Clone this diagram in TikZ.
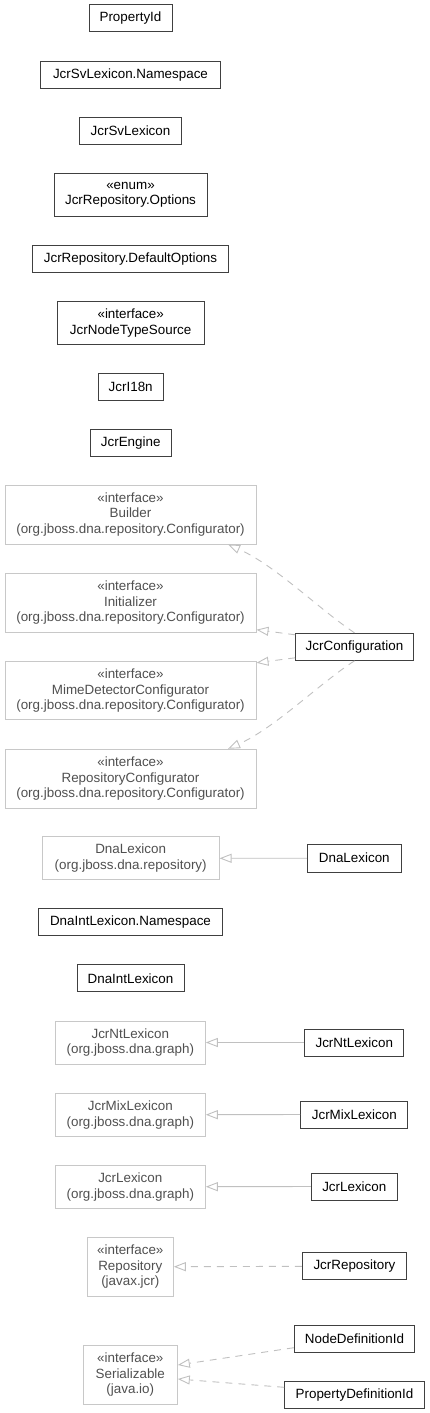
\documentclass[tikz,border=0pt]{standalone}
\usepackage{fontspec}
\setmainfont{Liberation Sans}
\usetikzlibrary{arrows.meta}
\definecolor{edgegrey}{HTML}{C0C0C0}
\definecolor{boxgrey}{HTML}{C8C8C8}
\definecolor{textgrey}{HTML}{505050}
\definecolor{boxdark}{HTML}{404040}
\begin{document}
\begin{tikzpicture}[x=1pt,y=-1pt,
  every node/.style={font=\fontsize{13.4}{15.7}\selectfont, align=center, inner sep=0pt, rectangle},
  cls/.style={draw=boxdark, line width=1pt, fill=white, text=black},
  ext/.style={draw=boxgrey, line width=1pt, fill=white, text=textgrey},
  realize/.style={draw=edgegrey, line width=0.9pt, dash pattern=on 7pt off 6pt, -{Triangle[open,length=12pt,width=9pt]}},
  inherit/.style={draw=edgegrey, line width=0.9pt, -{Triangle[open,length=12pt,width=9pt]}}]
\useasboundingbox (0,0) rectangle (429,1413);
% standalone classes
\node[cls, minimum width=83pt, minimum height=27pt] (propid) at (130.5,18.5) {PropertyId};
\node[cls, minimum width=179.6pt, minimum height=27.3pt] (svns) at (130.5,74.7) {JcrSvLexicon.Namespace};
\node[cls, minimum width=102.4pt, minimum height=27.3pt] (svlex) at (130.5,130.7) {JcrSvLexicon};
\node[cls, minimum width=153pt, minimum height=43.3pt] (opts) at (130.5,194.7) {«enum»\\JcrRepository.Options};
\node[cls, minimum width=195.6pt, minimum height=27.3pt] (defopts) at (130.5,258.7) {JcrRepository.DefaultOptions};
\node[cls, minimum width=147.3pt, minimum height=43.3pt] (nts) at (130.7,322.7) {«interface»\\JcrNodeTypeSource};
\node[cls, minimum width=64.7pt, minimum height=27.3pt] (i18n) at (130.7,386.7) {JcrI18n};
\node[cls, minimum width=80.7pt, minimum height=27.3pt] (engine) at (130.7,442.7) {JcrEngine};
% configurator interfaces
\node[ext, minimum width=251pt, minimum height=59pt] (builder) at (130.5,514.5) {«interface»\\Builder\\(org.jboss.dna.repository.Configurator)};
\node[ext, minimum width=251pt, minimum height=58.7pt] (init) at (130.5,602.7) {«interface»\\Initializer\\(org.jboss.dna.repository.Configurator)};
\node[ext, minimum width=251pt, minimum height=58.3pt] (mime) at (130.5,690.8) {«interface»\\MimeDetectorConfigurator\\(org.jboss.dna.repository.Configurator)};
\node[ext, minimum width=251pt, minimum height=59pt] (repconf) at (130.5,778.8) {«interface»\\RepositoryConfigurator\\(org.jboss.dna.repository.Configurator)};
\node[cls, minimum width=117.6pt, minimum height=27pt] (jcconf) at (354.5,646.8) {JcrConfiguration};
% lexicons
\node[ext, minimum width=176.7pt, minimum height=43.3pt] (dnalexx) at (130.7,858.3) {DnaLexicon\\(org.jboss.dna.repository)};
\node[cls, minimum width=94pt, minimum height=27.7pt] (dnalex) at (354.3,858.2) {DnaLexicon};
\node[cls, minimum width=184.4pt, minimum height=27.3pt] (dnaintns) at (130.5,922.3) {DnaIntLexicon.Namespace};
\node[cls, minimum width=107pt, minimum height=27.3pt] (dnaint) at (130.5,978.3) {DnaIntLexicon};
\node[ext, minimum width=150pt, minimum height=43pt] (ntx) at (130.3,1042.5) {JcrNtLexicon\\(org.jboss.dna.graph)};
\node[cls, minimum width=99.3pt, minimum height=27pt] (nt) at (354.3,1042.5) {JcrNtLexicon};
\node[ext, minimum width=150pt, minimum height=42.7pt] (mixx) at (130.3,1114.7) {JcrMixLexicon\\(org.jboss.dna.graph)};
\node[cls, minimum width=107.3pt, minimum height=27pt] (mix) at (354.3,1114.5) {JcrMixLexicon};
\node[ext, minimum width=150pt, minimum height=43.3pt] (lexx) at (130.3,1186.7) {JcrLexicon\\(org.jboss.dna.graph)};
\node[cls, minimum width=86pt, minimum height=27pt] (lex) at (354.3,1186.5) {JcrLexicon};
\node[ext, minimum width=86pt, minimum height=58.7pt] (repo) at (130.3,1266.7) {«interface»\\Repository\\(javax.jcr)};
\node[cls, minimum width=104.4pt, minimum height=27.3pt] (jcrrepo) at (354.5,1266.3) {JcrRepository};
\node[ext, minimum width=94pt, minimum height=58.7pt] (ser) at (130.3,1374.7) {«interface»\\Serializable\\(java.io)};
\node[cls, minimum width=120.4pt, minimum height=26.7pt] (nodedef) at (354.5,1338.7) {NodeDefinitionId};
\node[cls, minimum width=139.6pt, minimum height=27.3pt] (propdef) at (354.5,1394.7) {PropertyDefinitionId};
% edges
\draw[realize] (jcconf.north) .. controls (320,610) and (275,565) .. ([xshift=97.5pt]builder.south);
\draw[realize] ([yshift=12pt]jcconf.west) -- ([yshift=-27pt]init.east);
\draw[realize] ([yshift=-11pt]jcconf.west) -- ([yshift=28pt]mime.east);
\draw[realize] (jcconf.south) .. controls (320,683) and (275,728) .. ([xshift=97.5pt]repconf.north);
\draw[inherit] (dnalex.west) -- (dnalexx.east);
\draw[inherit] (nt.west) -- (ntx.east);
\draw[inherit] (mix.west) -- (mixx.east);
\draw[inherit] (lex.west) -- (lexx.east);
\draw[realize] (jcrrepo.west) -- (repo.east);
\draw[realize] ([yshift=-9pt]nodedef.west) -- ([yshift=9.7pt]ser.east);
\draw[realize] ([yshift=7.4pt]propdef.west) -- ([yshift=-4.3pt]ser.east);
\end{tikzpicture}
\end{document}
